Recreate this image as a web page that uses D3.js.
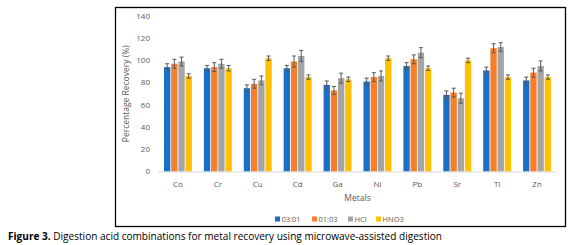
<!DOCTYPE html>
<html lang="en">
<head>
<meta charset="UTF-8">
<script src="https://d3js.org/d3.v7.min.js"></script>
<style>
  body { margin: 0; background: #fff; }
  svg { display: block; font-family: 'Open Sans', sans-serif; }
</style>
</head>
<body>
<svg id="chart"></svg>
<script>
// chart data
const metals = ["Co", "Cr", "Cu", "Cd", "Ga", "Ni", "Pb", "Sr", "Tl", "Zn"];
const series = ["03:01", "01:03", "HCl", "HNO3"];
const colors = ["#1a70c6", "#f57f2c", "#a5a5a5", "#ffc000"];
const v0301 = [94, 93, 75, 93, 78, 81, 95, 69, 91, 82];
const v0103 = [97, 94, 79, 99, 73, 85, 101, 71, 111, 89];
const vHCl  = [99, 97, 82, 104, 84, 86, 107, 66, 112, 95];
const vHNO3 = [86, 93, 102, 85, 83, 102, 93, 100, 85, 85];
const e0301 = [3, 2.5, 3, 2.5, 3.5, 3, 3, 3.5, 3, 3];
const e0103 = [4, 4, 4, 5, 3.5, 4, 4, 4, 4, 4];
const eHCl  = [4, 4, 4, 5, 4.5, 4.5, 4.5, 4.5, 4, 4.5];
const eHNO3 = [2, 2.5, 2, 2, 2, 2, 2, 2, 2, 2];
const yTicks = [0, 20, 40, 60, 80, 100, 120, 140];

const values = [v0301, v0103, vHCl, vHNO3];
const errors = [e0301, e0103, eHCl, eHNO3];

const width = 580, height = 245;
const svg = d3.select("#chart").attr("width", width).attr("height", height);

// outer frame
svg.append("rect")
  .attr("x", 115.5).attr("y", 7.5)
  .attr("width", 450).attr("height", 219)
  .attr("fill", "none").attr("stroke", "#000").attr("stroke-width", 1.3);

const x = d3.scaleBand().domain(metals).range([158, 557]).paddingInner(0.3).paddingOuter(0.15);
const xs = d3.scaleBand().domain(series).range([0, x.bandwidth()]).paddingInner(0.12);
const y = d3.scaleLinear().domain([0, 140]).range([171.5, 16]);

// y tick labels
svg.append("g").selectAll("text")
  .data(yTicks).join("text")
  .attr("x", 150).attr("y", d => y(d))
  .attr("dy", "0.35em").attr("text-anchor", "end")
  .attr("font-size", 8).attr("fill", "#595959")
  .text(d => d);

// bars
const groups = svg.append("g").selectAll("g")
  .data(metals).join("g")
  .attr("transform", d => `translate(${x(d)},0)`);

groups.each(function(m, i) {
  const g = d3.select(this);
  series.forEach((s, j) => {
    const v = values[j][i], e = errors[j][i];
    const cx = xs(s) + xs.bandwidth() / 2;
    g.append("rect")
      .attr("x", xs(s)).attr("y", y(v))
      .attr("width", xs.bandwidth()).attr("height", y(0) - y(v))
      .attr("fill", colors[j]);
    g.append("line")
      .attr("x1", cx).attr("x2", cx)
      .attr("y1", y(v + e)).attr("y2", y(v - e))
      .attr("stroke", "#595959").attr("stroke-width", 1);
    [v + e, v - e].forEach(t => {
      g.append("line")
        .attr("x1", cx - 2).attr("x2", cx + 2)
        .attr("y1", y(t)).attr("y2", y(t))
        .attr("stroke", "#595959").attr("stroke-width", 1);
    });
  });
});

// x axis line
svg.append("line")
  .attr("x1", 158).attr("x2", 557)
  .attr("y1", y(0) + 0.5).attr("y2", y(0) + 0.5)
  .attr("stroke", "#d9d9d9").attr("stroke-width", 1);

// category labels
svg.append("g").selectAll("text")
  .data(metals).join("text")
  .attr("x", d => x(d) + x.bandwidth() / 2).attr("y", 187)
  .attr("text-anchor", "middle")
  .attr("font-size", 8).attr("fill", "#595959")
  .text(d => d);

// axis titles
svg.append("text")
  .attr("x", 357.5).attr("y", 201)
  .attr("text-anchor", "middle")
  .attr("font-size", 8.5).attr("fill", "#595959")
  .text("Metals");

svg.append("text")
  .attr("transform", `translate(129,${y(70)}) rotate(-90)`)
  .attr("text-anchor", "middle")
  .attr("font-size", 8.5).attr("fill", "#595959")
  .text("Percentage Recovery (%)");

// legend
const legendX = [275, 312, 348, 376];
const legend = svg.append("g").selectAll("g")
  .data(series).join("g")
  .attr("transform", (d, i) => `translate(${legendX[i]},219)`);
legend.append("rect")
  .attr("x", 0).attr("y", -2.5).attr("width", 5).attr("height", 5)
  .attr("fill", (d, i) => colors[i]);
legend.append("text")
  .attr("x", 6.5).attr("y", 0).attr("dy", "0.35em")
  .attr("font-size", 7.5).attr("fill", "#595959")
  .text(d => d);

// caption
const cap = svg.append("text")
  .attr("x", 8).attr("y", 240)
  .attr("font-size", 10.5).attr("fill", "#000")
  .attr("textLength", 434).attr("lengthAdjust", "spacingAndGlyphs");
cap.append("tspan").attr("font-weight", "bold").text("Figure 3.");
cap.append("tspan").text(" Digestion acid combinations for metal recovery using microwave-assisted digestion");
</script>
</body>
</html>
